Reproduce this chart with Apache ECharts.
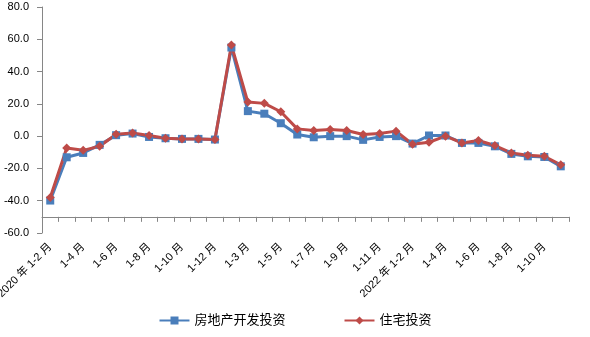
<!DOCTYPE html>
<html>
<head>
<meta charset="utf-8">
<script src="https://cdn.jsdelivr.net/npm/echarts@6/dist/echarts.min.js"></script>
<style>html,body{margin:0;padding:0;background:#fff}#c{width:590px;height:337px}</style>
</head>
<body>
<div id="c"></div>
<script>
const categories = [
  "2020 年 1-2 月","1-3 月","1-4 月","1-5 月","1-6 月","1-7 月","1-8 月","1-9 月","1-10 月","1-11 月","1-12 月",
  "2021 年 1-2 月","1-3 月","1-4 月","1-5 月","1-6 月","1-7 月","1-8 月","1-9 月","1-10 月","1-11 月","1-12 月",
  "2022 年 1-2 月","1-3 月","1-4 月","1-5 月","1-6 月","1-7 月","1-8 月","1-9 月","1-10 月","1-11 月"
];
const realEstate = [-39.9,-13.1,-10.4,-5.4,0.6,1.6,-0.5,-1.3,-1.7,-1.7,-2.1,
  54.9,15.5,13.9,8.0,1.0,-0.7,0.0,0.0,-2.3,-0.5,0.0,
  -4.6,0.4,0.4,-4.2,-4.2,-6.3,-11.0,-12.5,-12.9,-18.7];
const residential = [-38.0,-7.3,-8.8,-6.3,1.2,2.0,0.4,-1.3,-1.7,-1.7,-2.1,
  56.5,21.1,20.3,15.1,4.5,3.5,4.1,3.5,1.0,1.6,3.1,
  -5.0,-3.8,0.0,-4.2,-2.7,-5.8,-10.4,-11.9,-12.5,-17.7];
const seriesNames = ["房地产开发投资","住宅投资"];

const chart = echarts.init(document.getElementById('c'), null, {renderer:'canvas'});
const font = "'Liberation Sans', Arial, 'Noto Sans CJK SC', sans-serif";
const axisColor = '#868686';
chart.setOption({
  animation: false,
  textStyle: {fontFamily: font},
  grid: {left: 42, right: 21, top: 7, bottom: 104, containLabel: false, outerBoundsMode: 'none'},
  legend: {
    bottom: 5, left: 'center', itemWidth: 30, itemHeight: 10, itemGap: 58,
    textStyle: {fontSize: 13, color: '#000', fontFamily: font},
    data: seriesNames
  },
  xAxis: {
    type: 'category', data: categories, boundaryGap: true,
    axisLine: {onZero: true, onZeroAxisIndex: 1, lineStyle: {color: axisColor, width: 1}},
    axisTick: {show: true, interval: 0, length: 5, lineStyle: {color: axisColor}},
    axisLabel: {interval: 1, rotate: 45, margin: 12, fontSize: 11, color: '#000', fontFamily: font}
  },
  yAxis: [{
    type: 'value', min: -60, max: 80, interval: 20,
    splitLine: {show: false},
    axisLine: {show: true, lineStyle: {color: axisColor}},
    axisTick: {show: true, length: 5, lineStyle: {color: axisColor}},
    axisLabel: {margin: 13, fontSize: 11, color: '#000', formatter: v => v.toFixed(1)}
  }, {
    type: 'value', min: -10, max: 130, show: false, splitLine: {show: false}
  }],
  series: [{
    name: seriesNames[0], type: 'line', data: realEstate, yAxisIndex: 0,
    symbol: 'rect', symbolSize: 8,
    lineStyle: {color: '#4A7EBB', width: 3},
    itemStyle: {color: '#4A7EBB'}
  }, {
    name: seriesNames[1], type: 'line', data: residential, yAxisIndex: 0,
    symbol: 'diamond', symbolSize: 9,
    lineStyle: {color: '#BE4B48', width: 3},
    itemStyle: {color: '#BE4B48'}
  }]
});
</script>
</body>
</html>
